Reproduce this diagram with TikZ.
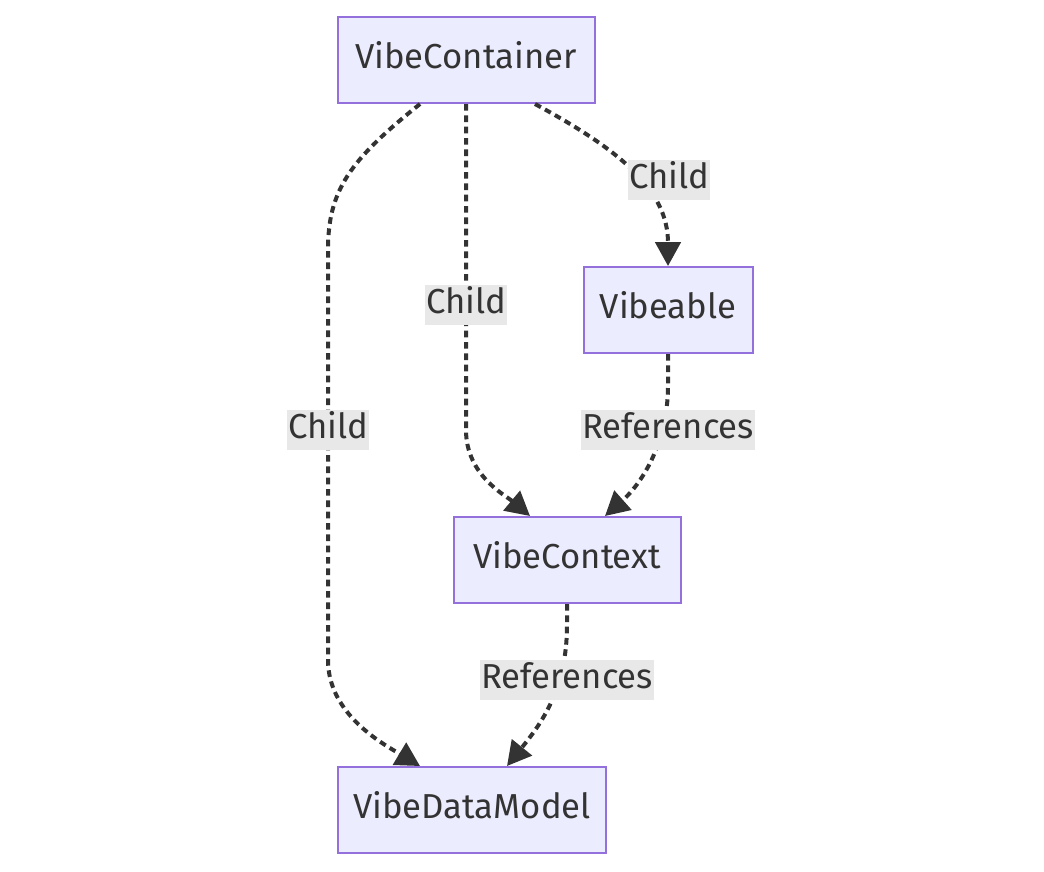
\documentclass[tikz,border=0pt]{standalone}
\usepackage{fontspec}
\setmainfont{Fira Sans}
\usetikzlibrary{arrows.meta,calc}
\definecolor{vibefill}{HTML}{ECECFF}
\definecolor{vibeline}{HTML}{9370DB}
\definecolor{vibeink}{HTML}{333333}
\definecolor{vibelabel}{HTML}{E8E8E8}
\tikzset{
  cls/.style={draw=vibeline, line width=1.5pt, fill=vibefill, inner sep=0pt, minimum height=64.5pt, text height=19pt, text depth=6pt, text=vibeink, font=\fontsize{26}{30}\selectfont},
  lbl/.style={fill=vibelabel, inner xsep=1pt, inner ysep=0pt, text height=21pt, text depth=9pt, text=vibeink, font=\fontsize{26}{30}\selectfont},
  link/.style={draw=vibeink, line width=3pt, dash pattern=on 5pt off 3.5pt, -{Triangle[length=18pt, width=19pt]}}
}

\begin{document}
\begin{tikzpicture}[x=0.75pt, y=-0.75pt]
  \useasboundingbox (0,0) rectangle (1044,871);
  \node[cls, minimum width=192.75pt] (container) at (466,60) {VibeContainer};
  \node[cls, minimum width=126.75pt] (vibeable) at (668,310) {Vibeable};
  \node[cls, minimum width=170.25pt] (context) at (567,560) {VibeContext};
  \node[cls, minimum width=201pt] (datamodel) at (472,810) {VibeDataModel};

  % edges
  \draw[link] ($(container.south)+(-46,0)$) .. controls (350,160) and (328,190) .. (328,250)
    -- (328,660) .. controls (328,715) and (385,745) .. ($(datamodel.north)+(-52,0)$);
  \draw[link] (container.south) -- (466,430) .. controls (466,475) and (505,495) .. ($(context.north)+(-37,0)$);
  \draw[link] ($(container.south)+(69,0)$) .. controls (620,150) and (668,190) .. (vibeable.north);
  \draw[link] (vibeable.south) -- (668,385) .. controls (668,445) and (640,485) .. ($(context.north)+(38,0)$);
  \draw[link] (context.south) -- (567,625) .. controls (567,690) and (540,725) .. ($(datamodel.north)+(35,0)$);

  % edge labels
  \node[lbl] (lblright) at (669,180) {Child};
  \node[lbl] (lblmid) at (466,305) {Child};
  \node[lbl] (lblleft) at (328,430) {Child};
  \node[lbl] (lblrefa) at (668,430) {References};
  \node[lbl] (lblrefb) at (567,680) {References};
\end{tikzpicture}
\end{document}
